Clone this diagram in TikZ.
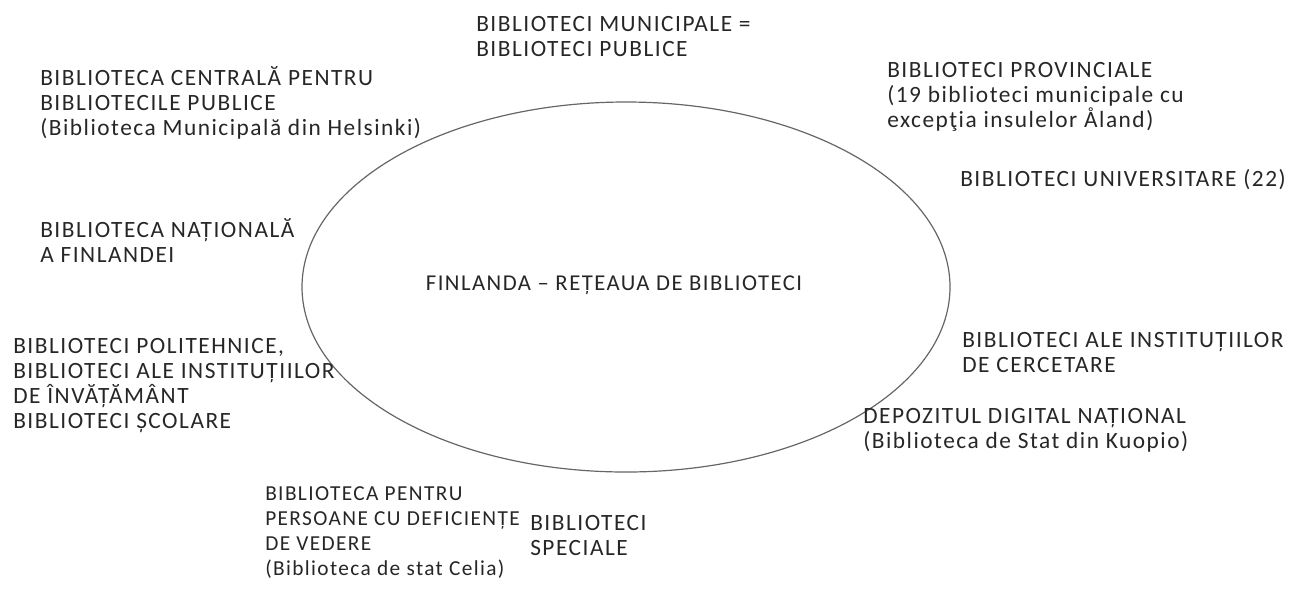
\documentclass[tikz,border=0pt]{standalone}
\usepackage{fontspec}
\setmainfont[LetterSpace=6.5]{Carlito}
\usetikzlibrary{shapes.geometric}
\begin{document}
\begin{tikzpicture}[x=0.75pt,y=-0.75pt,
  lbl/.style={anchor=west,align=left,inner sep=0pt,text=black!85,
    font=\fontsize{17.5}{18.75}\selectfont},
  retea/.style={ellipse,draw=black!60,line width=0.9pt,inner sep=0pt,
    minimum width=486pt,minimum height=277.5pt}]
\useasboundingbox (0,0) rectangle (1308,608);
% centrul
\node[retea] (cerc) at (626,287) {};
\node[lbl,anchor=center,font=\fontsize{17}{18.75}\selectfont] (titlu) at (614,285) {FINLANDA – REȚEAUA DE BIBLIOTECI};
% etichete din jur
\node[lbl] (municip) at (476,36.5) {BIBLIOTECI MUNICIPALE =\\BIBLIOTECI PUBLICE};
\node[lbl] (centrala) at (40,103) {BIBLIOTECA CENTRALĂ PENTRU\\BIBLIOTECILE PUBLICE\\(Biblioteca Municipală din Helsinki)};
\node[lbl] (provinc) at (887,97) {BIBLIOTECI PROVINCIALE\\(19 biblioteci municipale cu\\excepţia insulelor Åland)};
\node[lbl] (univ) at (960,180) {BIBLIOTECI UNIVERSITARE (22)};
\node[lbl] (nationala) at (40,240) {BIBLIOTECA NAȚIONALĂ\\A FINLANDEI};
\node[lbl] (politeh) at (13,385.5) {BIBLIOTECI POLITEHNICE,\\BIBLIOTECI ALE INSTITUȚIILOR\\DE ÎNVĂȚĂMÂNT\\BIBLIOTECI ȘCOLARE};
\node[lbl] (cercet) at (962,352.5) {BIBLIOTECI ALE INSTITUȚIILOR\\DE CERCETARE};
\node[lbl] (depozit) at (863,430) {DEPOZITUL DIGITAL NAȚIONAL\\(Biblioteca de Stat din Kuopio)};
\node[lbl,font=\fontsize{16}{18.75}\selectfont] (celia) at (265,532.5) {BIBLIOTECA PENTRU\\PERSOANE CU DEFICIENȚE\\DE VEDERE\\(Biblioteca de stat Celia)};
\node[lbl] (speciale) at (530,535.5) {BIBLIOTECI\\SPECIALE};
\end{tikzpicture}
\end{document}
